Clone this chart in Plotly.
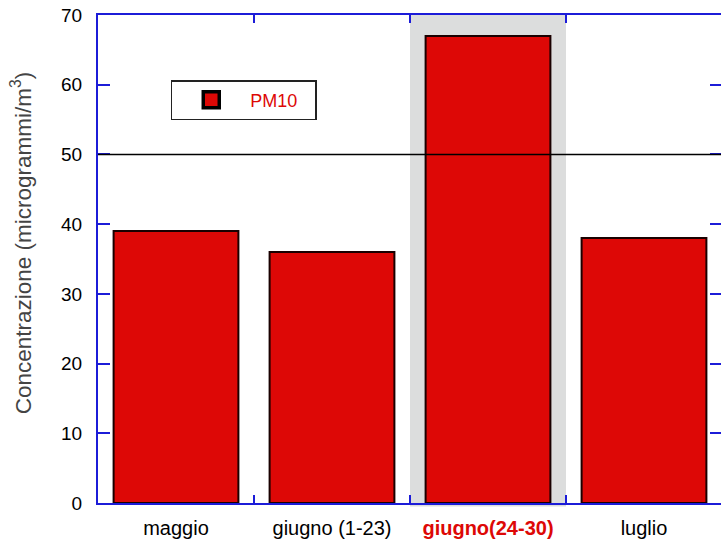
import plotly.graph_objects as go

categories = ["maggio", "giugno (1-23)", "giugno(24-30)", "luglio"]
pm10_values = [39, 36, 67, 38]
y_tick_values = [0, 10, 20, 30, 40, 50, 60, 70]
limit_value = 50
highlight_index = 2

RED = "#dd0806"
BLUE = "#1c1cd8"

tick_text = []
for i, c in enumerate(categories):
    if i == highlight_index:
        tick_text.append(f"<b><span style='color:{RED}'>{c}</span></b>")
    else:
        tick_text.append(c)

fig = go.Figure()

fig.add_trace(go.Bar(
    x=categories, y=pm10_values, width=0.8,
    marker=dict(color=RED, line=dict(color="#1a0000", width=2)),
    showlegend=False,
))

# legend-only marker
fig.add_trace(go.Scatter(
    x=[None], y=[None], mode="markers", name="PM10",
    marker=dict(symbol="square", size=16, color=RED, line=dict(color="black", width=3.5)),
))

# highlight band behind the selected category
fig.add_shape(type="rect", xref="x", yref="paper",
              x0=highlight_index - 0.5, x1=highlight_index + 0.5, y0=-0.007, y1=1,
              fillcolor="#dcdddd", line=dict(width=0), layer="below")

# limit line
fig.add_shape(type="line", xref="paper", yref="y", x0=0, x1=1,
              y0=limit_value, y1=limit_value, line=dict(color="black", width=1.5), layer="above")

PLOT_W = 724 - 98
fig.add_annotation(
    text="Concentrazione (microgrammi/m<sup>3</sup>)", textangle=-90,
    xref="paper", yref="paper", x=(21 - 98) / PLOT_W, y=(503 - 243) / 488,
    xanchor="center", yanchor="middle",
    showarrow=False, font=dict(family="Liberation Sans, Arial, sans-serif", size=22.5, color="#444444"),
)

fig.update_layout(
    width=724, height=541,
    margin=dict(l=98, r=0, t=15, b=38),
    plot_bgcolor="white", paper_bgcolor="white",
    font=dict(family="Liberation Sans, Arial, sans-serif", color="black"),
    bargap=0.2,
    legend=dict(
        orientation="h",
        x=(171 - 98) / PLOT_W, y=(503 - 80) / 488, xanchor="left", yanchor="top",
        bgcolor="white", bordercolor="#222", borderwidth=1.5,
        font=dict(size=18, color=RED), itemwidth=68, entrywidth=60,
    ),
    xaxis=dict(
        type="category", range=[-0.5, 3.5],
        tickvals=categories, ticktext=tick_text,
        tickson="boundaries", ticks="inside", ticklen=8, tickwidth=2, tickcolor=BLUE,
        showline=True, linecolor=BLUE, linewidth=2, mirror="ticks",
        showgrid=False, tickfont=dict(size=20), ticklabelstandoff=6,
    ),
    yaxis=dict(
        range=[0, 70], tickvals=y_tick_values,
        ticks="inside", ticklen=12, tickwidth=2, tickcolor=BLUE,
        showline=True, linecolor=BLUE, linewidth=2, mirror="ticks",
        showgrid=False, zeroline=False, tickfont=dict(size=19), ticklabelstandoff=10,
    ),
)

fig.write_html("out.html", config={"displayModeBar": False})

# remove the default page margin so the figure sits at the window's corner
with open("out.html", encoding="utf-8") as f:
    html = f.read()
html = html.replace("<head>", "<head><style>html,body{margin:0;padding:0;overflow:hidden}</style>", 1)
with open("out.html", "w", encoding="utf-8") as f:
    f.write(html)
